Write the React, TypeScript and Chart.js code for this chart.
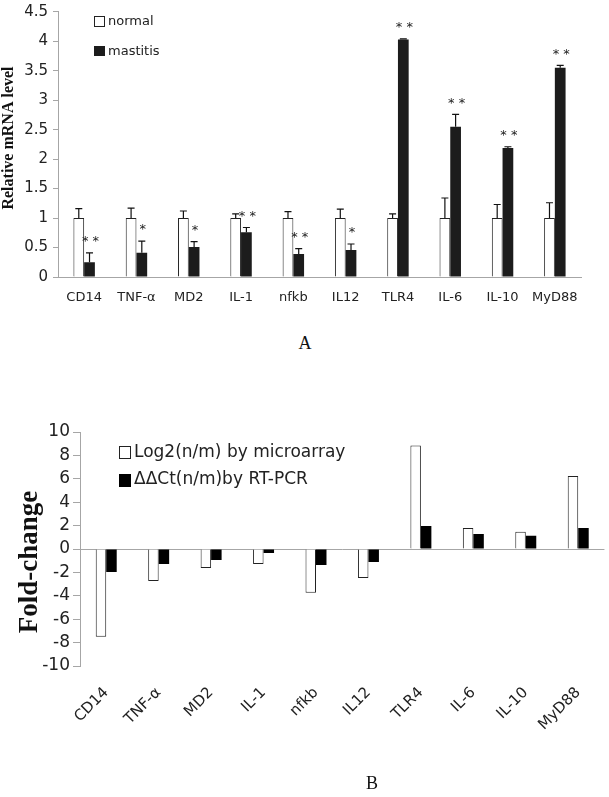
import React, { useEffect, useRef } from 'react';
import { Chart, registerables } from 'chart.js';

Chart.register(...registerables);

// ---------- Data: panel A ----------
const genes = ['CD14', 'TNF-α', 'MD2', 'IL-1', 'nfkb', 'IL12', 'TLR4', 'IL-6', 'IL-10', 'MyD88'];
const normalLevel = [1, 1, 1, 1, 1, 1, 1, 1, 1, 1];
const normalError = [0.16, 0.17, 0.12, 0.07, 0.11, 0.15, 0.07, 0.34, 0.23, 0.26];
const mastitisLevel = [0.25, 0.41, 0.51, 0.76, 0.39, 0.46, 4.03, 2.55, 2.19, 3.55];
const mastitisError = [0.16, 0.2, 0.09, 0.08, 0.09, 0.1, 0.01, 0.21, 0.02, 0.04];
const significance = ['**', '*', '*', '**', '**', '*', '**', '**', '**', '**'];
const seriesNamesA = ['normal', 'mastitis'];

// ---------- Data: panel B ----------
const log2Microarray = [-7.5, -2.73, -1.62, -1.28, -3.74, -2.47, 8.85, 1.79, 1.48, 6.23];
const ddCtRtPcr = [-1.96, -1.28, -0.94, -0.34, -1.37, -1.11, 1.96, 1.28, 1.14, 1.79];
const seriesNamesB = ['Log2(n/m) by microarray', 'ΔΔCt(n/m)by RT-PCR'];

const SANS = '"DejaVu Sans", sans-serif';
const SERIF = '"Liberation Serif", "Times New Roman", serif';
const TEXT = '#222';
const AXIS = '#a6a6a6';

const annotA = {
  id: 'annotA',
  afterDatasetsDraw(chart: any) {
    const ctx = chart.ctx;
    const y = chart.scales.y;
    ctx.save();
    const errs = [normalError, mastitisError];
    [0, 1].forEach((di) => {
      const meta = chart.getDatasetMeta(di);
      const vals = chart.data.datasets[di].data as number[];
      meta.data.forEach((bar: any, i: number) => {
        const top = y.getPixelForValue(vals[i] + errs[di][i]);
        ctx.strokeStyle = '#111';
        ctx.lineWidth = 1.2;
        ctx.beginPath();
        ctx.moveTo(bar.x, bar.y);
        ctx.lineTo(bar.x, top);
        ctx.moveTo(bar.x - 3.5, top);
        ctx.lineTo(bar.x + 3.5, top);
        ctx.stroke();
        if (di === 1) {
          ctx.fillStyle = '#222';
          ctx.font = '13px ' + SANS;
          ctx.textAlign = 'center';
          ctx.textBaseline = 'middle';
          ctx.fillText(significance[i].split('').join(' '), bar.x + 1, top - 11);
        }
      });
    });
    // legend
    ctx.font = '13px ' + SANS;
    ctx.textAlign = 'left';
    ctx.textBaseline = 'middle';
    ctx.lineWidth = 1;
    ctx.fillStyle = '#fff';
    ctx.strokeStyle = '#222';
    ctx.fillRect(94.5, 16.5, 10, 10);
    ctx.strokeRect(94.5, 16.5, 10, 10);
    ctx.fillStyle = '#1c1c1c';
    ctx.fillRect(94, 46, 11, 10);
    ctx.fillStyle = TEXT;
    ctx.fillText(seriesNamesA[0], 108, 21.5);
    ctx.fillText(seriesNamesA[1], 108, 51.5);
    // y title
    ctx.save();
    ctx.translate(9, 138);
    ctx.rotate(-Math.PI / 2);
    ctx.font = 'bold 16px ' + SERIF;
    ctx.textAlign = 'center';
    ctx.textBaseline = 'middle';
    ctx.fillStyle = '#111';
    ctx.fillText('Relative mRNA level', 0, 0);
    ctx.restore();
    ctx.restore();
  },
};

const annotB = {
  id: 'annotB',
  afterDraw(chart: any) {
    const ctx = chart.ctx;
    ctx.save();
    ctx.font = '17px ' + SANS;
    ctx.textAlign = 'left';
    ctx.textBaseline = 'middle';
    ctx.lineWidth = 1;
    ctx.fillStyle = '#fff';
    ctx.strokeStyle = '#222';
    ctx.fillRect(119.5, 66.5, 11, 12);
    ctx.strokeRect(119.5, 66.5, 11, 12);
    ctx.fillStyle = '#000';
    ctx.fillRect(119, 94, 12, 13);
    ctx.fillStyle = TEXT;
    ctx.fillText(seriesNamesB[0], 134, 72.5);
    ctx.fillText(seriesNamesB[1], 134, 100);
    ctx.save();
    ctx.translate(30, 182);
    ctx.rotate(-Math.PI / 2);
    ctx.font = 'bold 27px ' + SERIF;
    ctx.textAlign = 'center';
    ctx.textBaseline = 'middle';
    ctx.fillStyle = '#111';
    ctx.fillText('Fold-change', 0, 0);
    ctx.restore();
    ctx.restore();
  },
};

const plainTick = (v: any) => String(v);

export default function App() {
  const refA = useRef<HTMLCanvasElement>(null);
  const refB = useRef<HTMLCanvasElement>(null);

  useEffect(() => {
    const chartA = new Chart(refA.current as HTMLCanvasElement, {
      type: 'bar',
      data: {
        labels: genes,
        datasets: [
          {
            label: seriesNamesA[0],
            data: normalLevel,
            backgroundColor: '#ffffff',
            borderColor: '#222',
            borderWidth: 1,
            categoryPercentage: 0.41,
            barPercentage: 1,
          },
          {
            label: seriesNamesA[1],
            data: mastitisLevel,
            backgroundColor: '#1c1c1c',
            borderColor: '#1c1c1c',
            borderWidth: 0,
            categoryPercentage: 0.41,
            barPercentage: 1,
          },
        ],
      },
      options: {
        responsive: false,
        animation: false,
        devicePixelRatio: 1,
        layout: { padding: { left: 0, right: 28, top: 7, bottom: 0 } },
        plugins: { legend: { display: false }, tooltip: { enabled: false } },
        scales: {
          x: {
            afterFit: (s: any) => { s.height = 43; },
            grid: { display: false, drawTicks: false },
            border: { display: true, color: AXIS, width: 1 },
            ticks: { color: TEXT, font: { family: SANS, size: 13 }, padding: 13, maxRotation: 0, autoSkip: false },
          },
          y: {
            min: 0,
            max: 4.5,
            afterFit: (s: any) => { s.width = 58; },
            grid: { drawOnChartArea: false, drawTicks: true, tickLength: 5, tickColor: AXIS },
            border: { display: true, color: AXIS, width: 1 },
            ticks: { stepSize: 0.5, callback: plainTick, color: TEXT, font: { family: SANS, size: 15, lineHeight: 0.9 }, padding: 5 },
          },
        },
      },
      plugins: [annotA],
    } as any);

    const chartB = new Chart(refB.current as HTMLCanvasElement, {
      type: 'bar',
      data: {
        labels: genes,
        datasets: [
          {
            label: seriesNamesB[0],
            data: log2Microarray,
            backgroundColor: '#ffffff',
            borderColor: '#222',
            borderWidth: 1,
            categoryPercentage: 0.4,
            barPercentage: 1,
          },
          {
            label: seriesNamesB[1],
            data: ddCtRtPcr,
            backgroundColor: '#000',
            borderColor: '#000',
            borderWidth: 0,
            categoryPercentage: 0.4,
            barPercentage: 1,
          },
        ],
      },
      options: {
        responsive: false,
        animation: false,
        devicePixelRatio: 1,
        layout: { padding: { left: 0, right: 1, top: 52, bottom: 0 } },
        plugins: { legend: { display: false }, tooltip: { enabled: false } },
        scales: {
          x: {
            afterFit: (s: any) => { s.height = 131; },
            grid: { display: false, drawTicks: false },
            border: { display: false },
            ticks: {
              color: TEXT,
              font: { family: SANS, size: 15 },
              padding: 18,
              minRotation: 45,
              maxRotation: 45,
              autoSkip: false,
            },
          },
          y: {
            min: -10,
            max: 10,
            afterFit: (s: any) => { s.width = 80; },
            grid: {
              drawOnChartArea: true,
              drawTicks: true,
              tickLength: 7,
              tickColor: AXIS,
              color: (c: any) => (c.tick && c.tick.value === 0 ? AXIS : 'rgba(0,0,0,0)'),
            },
            border: { display: true, color: AXIS, width: 1 },
            ticks: { stepSize: 2, callback: plainTick, color: TEXT, font: { family: SANS, size: 17, lineHeight: 1 }, padding: 3 },
          },
        },
      },
      plugins: [annotB],
    } as any);

    return () => {
      chartA.destroy();
      chartB.destroy();
    };
  }, []);

  return (
    <div style={{ position: 'absolute', left: 0, top: 0, width: 609, height: 797, background: '#fff', overflow: 'hidden' }}>
      <canvas ref={refA} width={609} height={320} style={{ position: 'absolute', left: 0, top: 0 }} />
      <div style={{ position: 'absolute', left: 285, top: 333, width: 40, textAlign: 'center', font: '18px ' + SERIF, lineHeight: '20px', color: '#111' }}>A</div>
      <canvas ref={refB} width={609} height={417} style={{ position: 'absolute', left: 0, top: 380 }} />
      <div style={{ position: 'absolute', left: 352, top: 773, width: 40, textAlign: 'center', font: '18px ' + SERIF, lineHeight: '20px', color: '#111' }}>B</div>
    </div>
  );
}
